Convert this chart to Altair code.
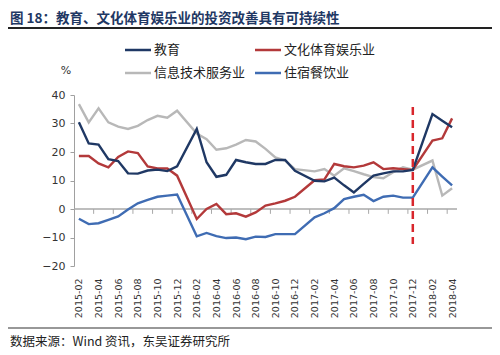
import altair as alt
import pandas as pd

# ---- data ----
months = [
    "2015-02", "2015-03", "2015-04", "2015-05", "2015-06", "2015-07", "2015-08", "2015-09", "2015-10", "2015-11", "2015-12",
    "2016-02", "2016-03", "2016-04", "2016-05", "2016-06", "2016-07", "2016-08", "2016-09", "2016-10", "2016-11", "2016-12",
    "2017-02", "2017-03", "2017-04", "2017-05", "2017-06", "2017-07", "2017-08", "2017-09", "2017-10", "2017-11", "2017-12",
    "2018-02", "2018-03", "2018-04",
]
edu = [30.4, 23.0, 22.6, 17.5, 16.8, 12.5, 12.4, 13.5, 13.8, 13.3, 15.0,
       28.1, 16.4, 11.3, 12.0, 17.2, 16.4, 15.8, 15.8, 17.2, 17.2, 13.4,
       9.9, 9.7, 11.0, 8.3, 5.8, 8.8, 11.7, 12.5, 13.2, 13.2, 13.7,
       33.3, 31.0, 28.7]
culture = [18.6, 18.6, 16.0, 14.6, 18.3, 20.2, 19.6, 14.9, 14.2, 14.2, 11.7,
           -3.5, 0.0, 1.8, -1.8, -1.5, -2.7, -1.2, 1.2, 2.0, 2.9, 4.3,
           10.1, 10.4, 15.8, 15.0, 14.6, 15.2, 16.4, 14.0, 14.3, 14.0, 13.7,
           24.0, 24.8, 31.8]
infotech = [36.8, 30.4, 35.3, 30.4, 28.9, 28.1, 29.2, 31.2, 32.7, 32.0, 34.5,
            26.5, 24.5, 20.8, 21.3, 22.6, 24.2, 23.7, 21.1, 18.1, 17.0, 14.0,
            13.2, 14.0, 11.7, 14.3, 13.3, 12.2, 11.2, 10.8, 12.9, 14.6, 13.8,
            17.0, 4.7, 7.3]
hospitality = [-3.4, -5.3, -5.0, -3.8, -2.6, -0.2, 2.0, 3.2, 4.3, 4.7, 5.1,
               -9.6, -8.4, -9.5, -10.2, -10.0, -10.6, -9.7, -9.8, -8.8, -8.8, -8.8,
               -2.9, -1.5, 0.3, 3.5, 4.3, 5.0, 2.8, 4.3, 4.7, 4.0, 4.0,
               14.6, 11.4, 8.3]

series_names = ["教育", "文化体育娱乐业", "信息技术服务业", "住宿餐饮业"]
series_values = [edu, culture, infotech, hospitality]
series_colors = ["#1F3864", "#B3393A", "#B8B8B8", "#3F6CB3"]
draw_order = ["信息技术服务业", "住宿餐饮业", "文化体育娱乐业", "教育"]
y_ticks = [-20, -10, 0, 10, 20, 30, 40]
marker_month = "2017-12"
title_text = "图 18：教育、文化体育娱乐业的投资改善具有可持续性"
source_text = "数据来源：Wind 资讯，东吴证券研究所"

# ---- helpers ----
def month_index(m):
    y, mo = m.split("-")
    return (int(y) - 2015) * 12 + int(mo) - 2

n_slots = month_index("2018-04") + 1
all_months = [f"{2015 + (k + 1) // 12}-{(k + 1) % 12 + 1:02d}" for k in range(n_slots)]

rows = []
for name in draw_order:
    vals = series_values[series_names.index(name)]
    for m, v in zip(months, vals):
        rows.append({"series": name, "idx": month_index(m), "value": v,
                     "ord": draw_order.index(name)})
df = pd.DataFrame(rows)

W, H = 383, 171
xscale = alt.Scale(domain=[-0.5, n_slots - 0.5], nice=False, zero=False)
yscale = alt.Scale(domain=[-20, 40], nice=False, zero=False)
label_expr = "[" + ",".join(f"'{m}'" for m in all_months) + "][datum.value]"
one = pd.DataFrame({"a": [0]})

xaxis = alt.Axis(values=list(range(0, n_slots, 2)), labelExpr=label_expr,
                 labelAngle=270, domain=False, ticks=False, grid=False,
                 labelPadding=12, labelFont="DejaVu Sans", labelFontSize=9.5,
                 labelColor="#333333", labelFlush=False, labelOverlap=False,
                 title=None)
yaxis = alt.Axis(values=y_ticks, grid=False, domainColor="#A0A0A0",
                 tickColor="#A0A0A0", tickSize=4, labelPadding=5,
                 labelFont="DejaVu Sans", labelFontSize=11, labelOverlap=False,
                 labelColor="#333333", title=None)

zero_line = alt.Chart(one).mark_rule(color="#A8A8A8", strokeWidth=1.5).encode(
    y=alt.YDatum(0, scale=yscale, axis=yaxis)
)

tick_df = pd.DataFrame({"idx": [k + 0.5 for k in range(1, n_slots, 2)]})
ticks = alt.Chart(tick_df).mark_rule(color="#A8A8A8", strokeWidth=1).encode(
    x=alt.X("idx:Q", scale=xscale, axis=xaxis),
    y=alt.YDatum(0, scale=yscale, axis=yaxis),
    y2=alt.Y2Datum(-1.7),
)

lines = alt.Chart(df).mark_line(strokeWidth=2.4).encode(
    x=alt.X("idx:Q", scale=xscale, axis=xaxis),
    y=alt.Y("value:Q", scale=yscale, axis=yaxis),
    color=alt.Color("series:N", scale=alt.Scale(domain=series_names, range=series_colors),
                    legend=None),
    detail="ord:N",
)

marker = alt.Chart(one).mark_rule(color="#D8262C", strokeWidth=2.5, strokeDash=[8, 5]).encode(
    x=alt.XDatum(month_index(marker_month), scale=xscale, axis=xaxis),
    y=alt.YDatum(35.8, scale=yscale, axis=yaxis),
    y2=alt.Y2Datum(-12.3),
)

layers = [zero_line, ticks, lines, marker]

# legend (two columns, two rows)
for k, (name, col) in enumerate(zip(series_names, series_colors)):
    cx = 51 + (k % 2) * 130
    cy = -45 + (k // 2) * 23
    layers.append(alt.Chart(one).mark_rule(color=col, strokeWidth=2.5).encode(
        x=alt.value(cx), x2=alt.value(cx + 26), y=alt.value(cy)))
    layers.append(alt.Chart(one).mark_text(
        align="left", baseline="middle", font="Noto Sans CJK SC", fontSize=13,
        color="#222222").encode(x=alt.value(cx + 29), y=alt.value(cy), text=alt.value(name)))

# title, separators, unit, source
layers.append(alt.Chart(one).mark_text(
    align="left", baseline="middle", font="Noto Sans CJK SC", fontSize=13.5,
    fontWeight="bold", color="#1F3864").encode(
    x=alt.value(-64), y=alt.value(-76), text=alt.value(title_text)))
layers.append(alt.Chart(one).mark_rule(color="#222222", strokeWidth=2).encode(
    x=alt.value(-66), x2=alt.value(418), y=alt.value(-67)))
layers.append(alt.Chart(one).mark_text(
    align="center", baseline="middle", font="DejaVu Sans", fontSize=11,
    color="#333333").encode(x=alt.value(-8), y=alt.value(-24), text=alt.value("%")))
layers.append(alt.Chart(one).mark_rule(color="#333333", strokeWidth=1.2).encode(
    x=alt.value(-66), x2=alt.value(418), y=alt.value(233)))
layers.append(alt.Chart(one).mark_text(
    align="left", baseline="middle", font="Noto Sans CJK SC", fontSize=12.5,
    color="#222222").encode(x=alt.value(-64), y=alt.value(247), text=alt.value(source_text)))

chart = alt.layer(*layers).properties(
    width=W, height=H,
    padding={"left": 66, "top": 87, "right": 35, "bottom": 88},
    autosize=alt.AutoSizeParams(type="none"),
).configure_view(stroke=None)

chart.save("out.html", embed_options={"renderer": "svg", "actions": False})
